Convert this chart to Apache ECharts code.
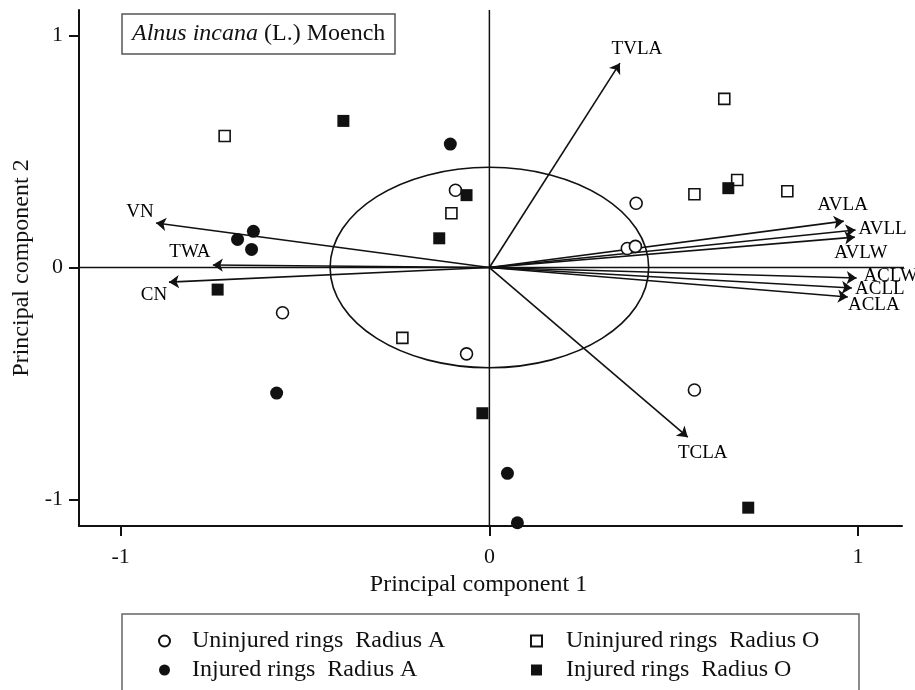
<!DOCTYPE html>
<html><head><meta charset="utf-8">
<script src="https://cdn.jsdelivr.net/npm/echarts@6/dist/echarts.min.js"></script>
<style>html,body{margin:0;padding:0;background:#fff}#c{width:915px;height:690px}</style>
</head><body><div id="c"></div>
<script>
// ---------- data ----------
const xTicks = [-1, 0, 1];
const yTicks = [-1, 0, 1];
const xRange = [-1.113, 1.119];
const yRange = [-1.114, 1.110];
const zeroLineXEnd = 1.149;

const uninjuredA = [[-0.092,0.333],[0.398,0.277],[0.374,0.082],[0.396,0.091],[-0.561,-0.195],[-0.062,-0.372],[0.556,-0.528]];
const injuredA   = [[-0.106,0.532],[-0.640,0.156],[-0.683,0.121],[-0.645,0.078],[-0.577,-0.541],[0.049,-0.887],[0.076,-1.100]];
const uninjuredO = [[-0.718,0.567],[-0.103,0.234],[0.637,0.727],[0.556,0.316],[0.672,0.377],[0.808,0.329],[-0.236,-0.303]];
const injuredO   = [[-0.396,0.632],[-0.062,0.312],[-0.136,0.126],[0.648,0.342],[-0.737,-0.095],[-0.019,-0.628],[0.702,-1.035]];

const arrowNames = ['TVLA','AVLA','AVLL','AVLW','ACLW','ACLL','ACLA','VN','TWA','CN','TCLA'];
const arrowTips  = [[0.354,0.881],[0.961,0.200],[0.993,0.162],[0.991,0.131],[0.996,-0.045],[0.983,-0.088],[0.972,-0.127],[-0.904,0.192],[-0.750,0.011],[-0.869,-0.063],[0.538,-0.731]];
const circleRadius = 0.432;

const seriesNames = ['Uninjured rings  Radius A','Injured rings  Radius A','Uninjured rings  Radius O','Injured rings  Radius O'];
const titleText = '{i|Alnus incana} (L.) Moench';

// ---------- styles ----------
const FONT = '"Liberation Serif","Times New Roman",serif';
const INK = '#111';
const labelOffsets = [[17,-14],[-1,-16],[27,-1],[6,16],[34,-2],[28,1],[26,8],[-16,-11],[-23,-13],[-15,13],[15,16]];

const chart = echarts.init(document.getElementById('c'), null, {renderer:'canvas'});

const axisCommon = {
  type:'value',
  splitLine:{show:false},
  axisLine:{show:true, onZero:false, lineStyle:{color:INK, width:2}},
  nameLocation:'middle'
};

chart.setOption({
  animation:false,
  backgroundColor:'#fff',
  title:{
    text:titleText, left:122, top:14, padding:[6,10,6,10],
    borderColor:'#555', borderWidth:1.5,
    textStyle:{fontFamily:FONT, fontSize:24, fontWeight:'normal', color:INK, lineHeight:28,
      rich:{i:{fontStyle:'italic', fontFamily:FONT, fontSize:24, color:INK, lineHeight:28}}}
  },
  grid:{left:79, right:13, top:10, bottom:164, containLabel:false},
  xAxis:Object.assign({}, axisCommon, {
    min:xRange[0], max:xRange[1],
    axisTick:{show:true, length:10, customValues:xTicks, lineStyle:{color:INK, width:2}},
    axisLabel:{customValues:xTicks, margin:20, fontSize:22, color:INK, fontFamily:FONT},
    name:'Principal component 1', nameGap:44,
    nameTextStyle:{fontFamily:FONT, fontSize:24, color:INK, padding:[0,24,0,0]}
  }),
  yAxis:Object.assign({}, axisCommon, {
    min:yRange[0], max:yRange[1],
    axisTick:{show:true, length:10, customValues:yTicks, lineStyle:{color:INK, width:2}},
    axisLabel:{customValues:yTicks, margin:16, fontSize:22, color:INK, fontFamily:FONT},
    name:'Principal component 2', nameGap:40,
    nameTextStyle:{fontFamily:FONT, fontSize:24, color:INK}
  }),
  legend:[
    {data:[seriesNames[0], seriesNames[1]], orient:'vertical', left:158, top:629, itemWidth:11, itemHeight:11, itemGap:5, padding:0, selectedMode:false,
      textStyle:{fontFamily:FONT, fontSize:24, color:INK, lineHeight:24, padding:[0,0,0,17]}},
    {data:[seriesNames[2], seriesNames[3]], orient:'vertical', left:530, top:629, itemWidth:11, itemHeight:11, itemGap:5, padding:0, selectedMode:false,
      textStyle:{fontFamily:FONT, fontSize:24, color:INK, lineHeight:24, padding:[0,0,0,19]}}
  ],
  graphic:[
    {type:'rect', shape:{x:122, y:614, width:737, height:100}, style:{fill:'none', stroke:'#666', lineWidth:1.5}, silent:true}
  ],
  series:[
    {type:'line', data:[[xRange[0],0],[zeroLineXEnd,0]], clip:false, symbol:'none', silent:true,
      lineStyle:{color:INK, width:1.5}, z:1},
    {type:'line', data:[[0,yRange[0]],[0,yRange[1]]], clip:false, symbol:'none', silent:true,
      lineStyle:{color:INK, width:1.5}, z:1},
    {type:'custom', silent:true, clip:false, z:2,
      renderItem:function(params, api){
        const c = api.coord([api.value(0), api.value(1)]);
        const s = api.size([api.value(2), api.value(2)]);
        return {type:'ellipse', shape:{cx:c[0], cy:c[1], rx:s[0], ry:s[1]},
          style:{fill:'none', stroke:INK, lineWidth:1.6}};
      },
      data:[[0,0,circleRadius]]},
    {type:'lines', coordinateSystem:'cartesian2d', silent:true, z:3,
      symbol:['none','arrow'], symbolSize:[0,10],
      lineStyle:{color:INK, width:1.6, opacity:1},
      data:arrowTips.map(t => ({coords:[[0,0], t]}))},
    {type:'scatter', silent:true, z:3, symbolSize:0, itemStyle:{color:INK},
      label:{show:true, position:'inside', fontFamily:FONT, fontSize:19, color:'#000', opacity:1,
        textBorderWidth:0, textBorderColor:'transparent', formatter:p => p.name},
      data:arrowTips.map((t,i) => ({name:arrowNames[i], value:t, label:{offset:labelOffsets[i]}}))},
    {name:seriesNames[0], type:'scatter', symbol:'circle', symbolSize:12, z:5,
      itemStyle:{color:'#fff', borderColor:INK, borderWidth:1.6, opacity:1}, data:uninjuredA},
    {name:seriesNames[1], type:'scatter', symbol:'circle', symbolSize:13, z:5,
      itemStyle:{color:INK, borderColor:INK, borderWidth:0, opacity:1}, data:injuredA},
    {name:seriesNames[2], type:'scatter', symbol:'rect', symbolSize:11, z:5,
      itemStyle:{color:'#fff', borderColor:INK, borderWidth:1.6, opacity:1}, data:uninjuredO},
    {name:seriesNames[3], type:'scatter', symbol:'rect', symbolSize:12, z:5,
      itemStyle:{color:INK, borderColor:INK, borderWidth:0, opacity:1}, data:injuredO}
  ]
});
</script></body></html>
